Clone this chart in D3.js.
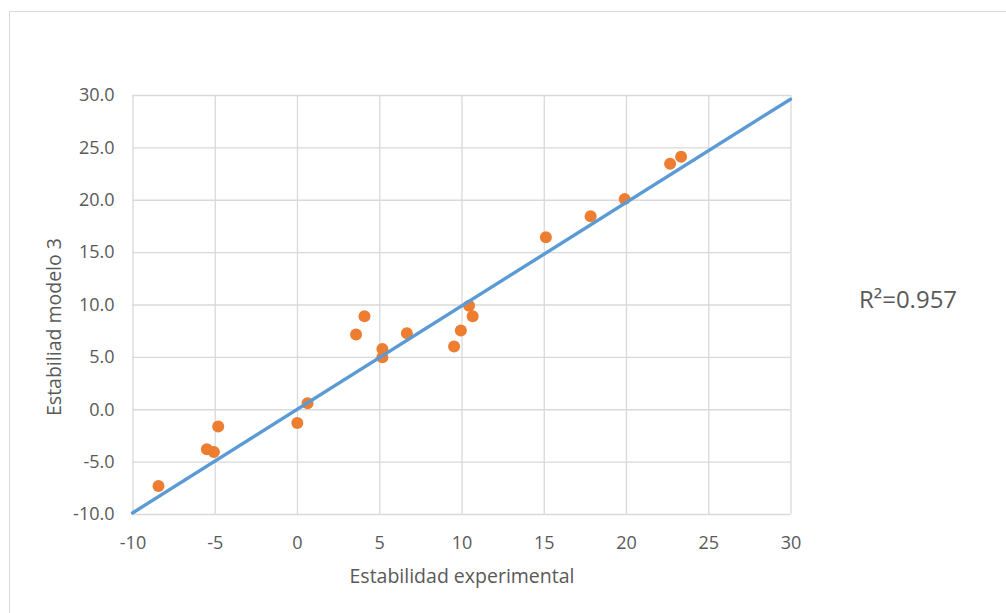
<!DOCTYPE html>
<html>
<head>
<meta charset="utf-8">
<script src="https://cdn.jsdelivr.net/npm/d3@7"></script>
<style>
  html, body { margin: 0; padding: 0; background: #ffffff; }
  svg { display: block; }
  text { font-family: "Open Sans", sans-serif; fill: #595959; }
</style>
</head>
<body>
<svg id="chart" width="1006" height="613"></svg>
<script>
// Data
const expValues = [-8.42, -5.48, -5.05, -4.79, 0.02, 0.64, 3.59, 4.10, 5.19, 5.19, 6.68, 9.55, 9.96, 10.46, 10.68, 15.13, 17.85, 19.92, 22.68, 23.35];
const modelValues = [-7.33, -3.82, -4.08, -1.65, -1.31, 0.57, 7.13, 8.88, 5.76, 4.97, 7.26, 5.99, 7.52, 9.87, 8.88, 16.43, 18.43, 20.06, 23.43, 24.10];
const trendX = [-10, 30];
const trendY = [-9.9, 29.6];
const xTicks = [-10, -5, 0, 5, 10, 15, 20, 25, 30];
const yTicks = [-10, -5, 0, 5, 10, 15, 20, 25, 30];
const xTitle = "Estabilidad experimental";
const yTitle = "Estabiliad modelo 3";
const r2Label = "R\u00B2=0.957";

const svg = d3.select("#chart");

// chart border
svg.append("rect")
  .attr("x", 9.5).attr("y", 11.5)
  .attr("width", 1100).attr("height", 700)
  .attr("fill", "#ffffff")
  .attr("stroke", "#d9d9d9").attr("stroke-width", 1);

const plot = { left: 132.5, right: 790.5, top: 95, bottom: 514 };

const x = d3.scaleLinear().domain([-10, 30]).range([plot.left, plot.right]);
const y = d3.scaleLinear().domain([-10, 30]).range([plot.bottom, plot.top]);

const hyphen = f => d => f(d).replace("\u2212", "-");

// gridlines
const xGrid = svg.append("g")
  .attr("transform", `translate(0,${plot.bottom})`)
  .call(d3.axisBottom(x).tickValues(xTicks).tickSize(-(plot.bottom - plot.top)).tickFormat(""));
xGrid.select(".domain").remove();
xGrid.selectAll("line").attr("stroke", "#d9d9d9").attr("stroke-width", 1.3);

const yGrid = svg.append("g")
  .attr("transform", `translate(${plot.left},0)`)
  .call(d3.axisLeft(y).tickValues(yTicks).tickSize(-(plot.right - plot.left)).tickFormat(""));
yGrid.select(".domain").remove();
yGrid.selectAll("line").attr("stroke", "#d9d9d9").attr("stroke-width", 1.3);

// tick labels
const xAxis = svg.append("g")
  .attr("transform", `translate(0,${plot.bottom})`)
  .call(d3.axisBottom(x).tickValues(xTicks).tickSize(0).tickPadding(22).tickFormat(hyphen(d3.format("d"))));
xAxis.select(".domain").remove();
xAxis.selectAll("text")
  .style("font-family", "'Open Sans', sans-serif")
  .style("font-size", "18px").attr("fill", "#595959");

const yAxis = svg.append("g")
  .attr("transform", `translate(${plot.left},0)`)
  .call(d3.axisLeft(y).tickValues(yTicks).tickSize(0).tickPadding(18).tickFormat(hyphen(d3.format(".1f"))));
yAxis.select(".domain").remove();
yAxis.selectAll("text")
  .style("font-family", "'Open Sans', sans-serif")
  .style("font-size", "18px").attr("fill", "#595959");

// points
const pts = expValues.map((v, i) => ({ x: v, y: modelValues[i] }));
svg.append("g").selectAll("circle")
  .data(pts)
  .join("circle")
  .attr("cx", d => x(d.x))
  .attr("cy", d => y(d.y))
  .attr("r", 6)
  .attr("fill", "#ED7D31");

// trend line
const line = d3.line().x(d => x(d[0])).y(d => y(d[1]));
svg.append("path")
  .datum(trendX.map((v, i) => [v, trendY[i]]))
  .attr("d", line)
  .attr("fill", "none")
  .attr("stroke", "#5B9BD5")
  .attr("stroke-width", 3.4)
  .attr("stroke-linecap", "round");

// axis titles
svg.append("text")
  .attr("x", (348 + 576) / 2).attr("y", 583)
  .attr("text-anchor", "middle")
  .style("font-size", "19.5px")
  .text(xTitle);

svg.append("text")
  .attr("transform", `translate(61,327) rotate(-90)`)
  .attr("text-anchor", "middle")
  .style("font-size", "19.5px")
  .text(yTitle);

// R² annotation
svg.append("text")
  .attr("x", 859).attr("y", 307.5)
  .style("font-size", "24px")
  .text(r2Label);
</script>
</body>
</html>
